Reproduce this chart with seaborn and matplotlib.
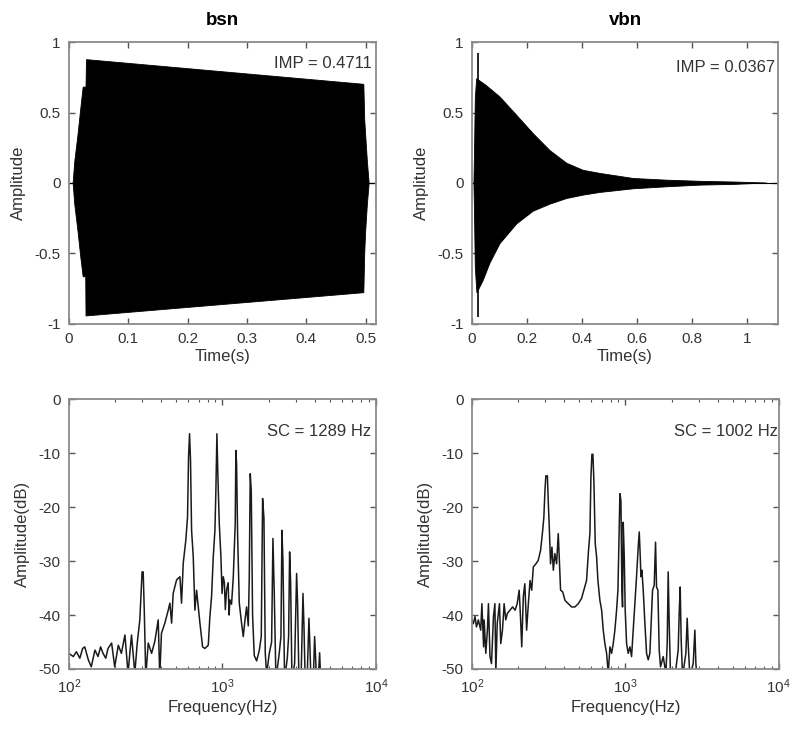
import matplotlib
matplotlib.use("Agg")
import matplotlib.pyplot as plt
import matplotlib.ticker as mticker
import seaborn as sns

# waveform envelopes (time in s, amplitude)
bsn_up_t = [0.0073, 0.010, 0.0157, 0.020, 0.0242, 0.029, 0.0298, 0.497, 0.4985, 0.500, 0.503, 0.506]
bsn_up = [0.0, 0.15, 0.35, 0.52, 0.68, 0.68, 0.875, 0.70, 0.45, 0.35, 0.15, 0.0]
bsn_lo_t = [0.0073, 0.010, 0.0157, 0.020, 0.0242, 0.0285, 0.029, 0.497, 0.4985, 0.500, 0.503, 0.506]
bsn_lo = [0.0, -0.15, -0.35, -0.52, -0.665, -0.665, -0.943, -0.778, -0.50, -0.35, -0.15, 0.0]

vbn_up_t = [0.007, 0.009, 0.012, 0.017, 0.053, 0.102, 0.163, 0.223, 0.284, 0.345, 0.405, 0.466, 0.588, 0.709, 0.830, 0.952, 1.073]
vbn_up = [0.0, 0.2, 0.6, 0.74, 0.69, 0.61, 0.48, 0.35, 0.23, 0.14, 0.09, 0.068, 0.032, 0.02, 0.012, 0.007, 0.0]
vbn_lo_t = [0.007, 0.009, 0.012, 0.018, 0.041, 0.065, 0.102, 0.163, 0.223, 0.284, 0.345, 0.405, 0.466, 0.588, 0.709, 0.830, 0.952, 1.073]
vbn_lo = [0.0, -0.2, -0.6, -0.78, -0.69, -0.57, -0.43, -0.29, -0.20, -0.15, -0.11, -0.086, -0.067, -0.041, -0.027, -0.015, -0.01, 0.0]
vbn_spike = (0.023, -0.95, 0.92)

# spectra (Hz, dB)
bsn_spec = [
    (100, -47.1), (107, -47.7), (112, -46.8), (118, -48.0), (123, -46.2), (127, -45.9),
    (134, -48.3), (140, -49.6), (148, -46.5), (155, -47.7), (161, -45.9), (167, -47.1),
    (174, -48.0), (180, -46.2), (190, -45.2), (199, -49.6), (210, -45.6), (220, -47.1),
    (232, -43.7), (243, -50.8), (256, -43.7), (269, -50.8), (279, -45.2), (290, -40.9),
    (300, -32.0), (305, -32.0), (310, -39.1), (317, -51.4), (329, -45.2), (346, -47.1),
    (363, -44.9), (382, -40.9), (391, -51.4), (401, -43.4), (422, -41.5), (444, -39.1),
    (455, -37.8), (467, -41.5), (478, -36.0), (503, -33.5), (529, -32.9), (542, -37.8),
    (556, -30.4), (578, -26.1), (593, -21.8), (602, -10.7), (611, -6.4), (620, -11.3),
    (630, -24.3), (646, -29.2), (662, -39.1), (679, -35.4), (696, -38.5), (714, -41.5),
    (743, -45.9), (769, -46.2), (809, -45.6), (829, -40.3), (850, -36.6), (872, -29.2),
    (894, -24.3), (907, -16.9), (921, -6.4), (935, -14.4), (954, -23.0), (978, -29.2),
    (995, -36.0), (1013, -32.9), (1030, -34.0), (1045, -39.0), (1064, -35.4), (1090, -34.0),
    (1105, -40.0), (1119, -37.2), (1147, -38.0), (1177, -33.0), (1194, -28.0), (1212, -23.0),
    (1224, -9.5), (1237, -12.0), (1256, -25.0), (1288, -37.8), (1333, -41.5), (1367, -44.0),
    (1402, -41.0), (1437, -38.5), (1474, -42.0), (1496, -33.0), (1518, -13.8), (1541, -16.9),
    (1572, -40.0), (1612, -47.5), (1670, -48.5), (1738, -46.6), (1791, -44.0), (1827, -18.4),
    (1864, -22.0), (1901, -47.0), (1939, -51.0), (2019, -47.1), (2091, -45.0), (2133, -25.8),
    (2176, -36.0), (2231, -52.0), (2346, -47.0), (2405, -44.0), (2441, -24.3), (2478, -30.0),
    (2541, -52.0), (2645, -48.0), (2698, -44.0), (2739, -28.3), (2781, -34.0), (2837, -52.0),
    (2952, -49.0), (3042, -32.3), (3088, -38.0), (3150, -52.0), (3263, -50.0), (3346, -36.0),
    (3396, -42.0), (3465, -53.0), (3569, -51.0), (3660, -40.6), (3715, -46.0), (3790, -54.0),
    (3906, -52.0), (3985, -44.0), (4045, -48.0), (4127, -54.0), (4232, -50.5), (4296, -47.0),
    (4361, -52.0), (4539, -56.0), (5500, -58.0), (7000, -60.0), (10000, -62.0),
]
vbn_spec = [
    (100, -40.9), (102, -41.6), (104.6, -40.3), (107, -42.2), (110, -40.9), (114, -42.8),
    (116, -37.9), (119, -45.9), (120, -40.9), (123, -47.1), (126, -42.8), (128, -37.9),
    (131, -47.7), (134, -49.0), (138, -40.3), (141, -37.9), (143, -50.8), (146, -41.6),
    (151, -37.9), (154, -45.3), (158, -42.8), (162, -37.9), (166, -40.9), (170, -39.7),
    (177, -39.1), (184, -38.5), (191, -39.1), (197, -37.9), (203, -35.4), (207, -40.3),
    (211, -45.9), (216, -36.6), (221, -34.2), (227, -42.8), (233, -37.9), (239, -33.6),
    (245, -35.4), (251, -31.1), (261, -30.5), (270, -29.9), (280, -28.0), (289, -24.3),
    (294, -21.9), (299, -16.9), (303, -14.2), (310, -14.2), (314, -18.8), (319, -23.7),
    (325, -30.5), (332, -27.4), (339, -31.7), (347, -28.6), (356, -30.5), (365, -24.9),
    (371, -29.9), (378, -35.4), (390, -35.7), (404, -37.3), (424, -37.9), (446, -38.5),
    (469, -38.5), (493, -37.9), (518, -36.9), (536, -35.4), (558, -33.6), (575, -28.0),
    (587, -24.9), (596, -14.5), (605, -10.2), (614, -10.2), (623, -15.1), (636, -26.8),
    (649, -29.2), (662, -33.6), (682, -37.3), (700, -39.1), (717, -42.8), (735, -45.3),
    (754, -47.1), (773, -50.8), (793, -45.9), (813, -47.1), (833, -45.3), (854, -42.8),
    (876, -39.1), (894, -35.4), (907, -26.2), (921, -17.5), (935, -18.8), (949, -35.4),
    (958, -38.5), (968, -22.8), (983, -29.2), (997, -39.1), (1018, -45.3), (1043, -47.1),
    (1070, -45.9), (1097, -47.7), (1125, -42.8), (1153, -37.9), (1182, -32.9), (1212, -27.4),
    (1231, -24.6), (1250, -29.2), (1262, -32.9), (1281, -31.7), (1307, -35.4), (1340, -41.6),
    (1374, -47.1), (1408, -48.3), (1444, -47.1), (1503, -35.4), (1541, -34.5), (1572, -26.5),
    (1596, -34.8), (1628, -35.4), (1661, -46.5), (1694, -49.6), (1764, -47.7), (1836, -50.8),
    (1873, -45.3), (1901, -32.0), (1930, -41.6), (1969, -51.4), (2102, -51.4), (2209, -46.5),
    (2242, -39.7), (2276, -34.8), (2310, -44.6), (2357, -51.4), (2478, -47.1), (2528, -40.6),
    (2566, -45.3), (2632, -51.4), (2767, -49.0), (2837, -42.8), (2880, -49.0), (2938, -52.0),
    (3200, -54.0), (4000, -56.0), (6000, -58.0), (10000, -60.0),
]

titles = ["bsn", "vbn"]
imp_labels = ["IMP = 0.4711", "IMP = 0.0367"]
sc_labels = ["SC = 1289 Hz", "SC = 1002 Hz"]
amp_ticks = [-1, -0.5, 0, 0.5, 1]
amp_ticklabels = ["-1", "-0.5", "0", "0.5", "1"]
db_ticks = [-50, -40, -30, -20, -10, 0]
db_ticklabels = ["-50", "-40", "-30", "-20", "-10", "0"]

sns.set_theme(style="white")
plt.rcParams["font.family"] = ["Liberation Sans", "DejaVu Sans"]
plt.rcParams["axes.unicode_minus"] = False
plt.rcParams["mathtext.fontset"] = "custom"
plt.rcParams["mathtext.rm"] = "Liberation Sans"

txt = "#333333"
frame = "#8a8a8a"

fig = plt.figure(figsize=(8, 7.37), dpi=100)
ax_tl = fig.add_axes([0.086, 0.5604, 0.384, 0.3826])
ax_tr = fig.add_axes([0.590, 0.5604, 0.3825, 0.3826])
ax_bl = fig.add_axes([0.086, 0.0923, 0.384, 0.366])
ax_br = fig.add_axes([0.590, 0.0923, 0.3835, 0.366])


def style(ax):
    for s in ax.spines.values():
        s.set_color(frame)
        s.set_linewidth(1.3)
    ax.tick_params(which="both", direction="in", top=True, right=True, bottom=True, left=True,
                   colors="#555555", labelcolor=txt, labelsize=11)
    ax.tick_params(which="major", length=4, width=1, pad=6)
    ax.tick_params(which="minor", length=2.5, width=0.8)


# --- waveforms ---
waves = [(ax_tl, bsn_up_t, bsn_up, bsn_lo_t, bsn_lo, 0.5175, 0.1),
         (ax_tr, vbn_up_t, vbn_up, vbn_lo_t, vbn_lo, 1.114, 0.2)]
for i, (ax, ut, uv, lt, lv, xmax, step) in enumerate(waves):
    ax.fill(list(ut) + list(lt[::-1]), list(uv) + list(lv[::-1]), color="black", lw=0.6, ec="black")
    ax.axhline(0, color="black", lw=0.8)
    ax.set_xlim(0, xmax)
    ax.set_ylim(-1, 1)
    ax.set_yticks(amp_ticks)
    ax.set_yticklabels(amp_ticklabels)
    xt = [round(k * step, 1) for k in range(int(xmax / step) + 1)]
    ax.set_xticks(xt)
    ax.set_xticklabels(["0" if v == 0 else ("1" if v == 1 else f"{v:g}") for v in xt])
    ax.set_title(titles[i], fontsize=13.5, fontweight="bold", color="black", pad=12)
    ax.set_xlabel("Time(s)", fontsize=12, color=txt, labelpad=2)
    ax.set_ylabel("Amplitude", fontsize=12, color=txt, labelpad=6)
    style(ax)

ax_tr.vlines(vbn_spike[0], vbn_spike[1], vbn_spike[2], color="black", lw=1.2)
ax_tl.text(0.987, 0.925, imp_labels[0], transform=ax_tl.transAxes, ha="right", va="center",
           fontsize=12, color=txt)
ax_tr.text(0.99, 0.91, imp_labels[1], transform=ax_tr.transAxes, ha="right", va="center",
           fontsize=12, color=txt)

# --- spectra ---
for i, (ax, spec) in enumerate([(ax_bl, bsn_spec), (ax_br, vbn_spec)]):
    f = [p[0] for p in spec]
    db = [p[1] for p in spec]
    sns.lineplot(x=f, y=db, ax=ax, color="#1a1a1a", lw=1.1, estimator=None, sort=False)
    ax.set_xscale("log")
    ax.set_xlim(100, 10000)
    ax.set_ylim(-50, 0)
    ax.set_yticks(db_ticks)
    ax.set_yticklabels(db_ticklabels)
    ax.xaxis.set_major_locator(mticker.LogLocator(base=10, numticks=5))
    ax.xaxis.set_minor_locator(mticker.LogLocator(base=10, subs=range(2, 10), numticks=20))
    ax.xaxis.set_minor_formatter(mticker.NullFormatter())
    ax.set_xlabel("Frequency(Hz)", fontsize=12, color=txt, labelpad=3)
    ax.set_ylabel("Amplitude(dB)", fontsize=12, color=txt, labelpad=6)
    style(ax)
    ax.text(0.984 if i == 0 else 0.997, 0.88, sc_labels[i], transform=ax.transAxes,
            ha="right", va="center", fontsize=12, color=txt)

fig.savefig("out.png", dpi=100)
